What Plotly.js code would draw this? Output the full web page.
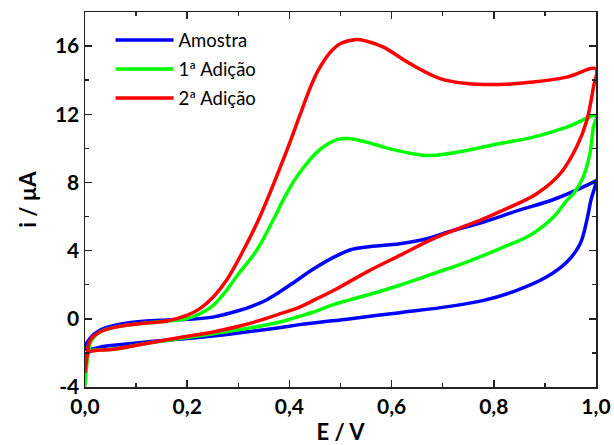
<!DOCTYPE html>
<html>
<head>
<meta charset="utf-8">
<script src="https://cdn.plot.ly/plotly-3.0.1.min.js"></script>
<style>html,body{margin:0;padding:0;background:#fff;}#chart{width:614px;height:445px;}</style>
</head>
<body>
<div id="chart"></div>
<script>
// Series names
const seriesNames = ["Amostra", "1ª Adição", "2ª Adição"];

// Amostra (blue): loop, lower branch 0->1 then upper branch 1->0
const amostraE = [0, 0.042, 0.12, 0.25, 0.38, 0.42, 0.52, 0.616, 0.714, 0.78, 0.845, 0.903, 0.943, 0.969, 0.982, 0.99, 1.0,
                  0.995, 0.917, 0.848, 0.78, 0.714, 0.669, 0.616, 0.551, 0.52, 0.49, 0.447, 0.408, 0.38, 0.356, 0.33, 0.303, 0.25, 0.2, 0.12, 0.068, 0.029, 0.01, 0];
const amostraI = [-1.75, -1.6, -1.36, -1.01, -0.52, -0.34, 0.01, 0.36, 0.73, 1.08, 1.67, 2.45, 3.33, 4.41, 5.78, 6.95, 8.1,
                  8.02, 7.0, 6.36, 5.68, 5.13, 4.70, 4.41, 4.21, 4.05, 3.66, 2.92, 2.12, 1.56, 1.12, 0.78, 0.5, 0.1, -0.03, -0.13, -0.32, -0.67, -1.14, -1.75];

// 1ª Adição (green)
const adicao1E = [0, 0.005, 0.055, 0.12, 0.186, 0.251, 0.316, 0.382, 0.42, 0.447, 0.488, 0.551, 0.616, 0.682, 0.747, 0.812, 0.871, 0.917, 0.943, 0.956, 0.975, 0.988, 0.995, 1.0,
                  0.943, 0.877, 0.812, 0.747, 0.682, 0.662, 0.61, 0.584, 0.558, 0.519, 0.493, 0.475, 0.453, 0.435, 0.414, 0.39, 0.368, 0.336, 0.297, 0.277, 0.251, 0.225, 0.199, 0.16, 0.12, 0.068, 0.029, 0.012, 0.005, 0];
const adicao1I = [-3.9, -2.0, -1.79, -1.45, -1.16, -0.87, -0.57, -0.19, 0.15, 0.40, 0.85, 1.38, 1.97, 2.65, 3.33, 4.12, 4.90, 5.97, 6.95, 7.34, 8.32, 9.69, 11.25, 11.9,
                  11.25, 10.66, 10.28, 9.88, 9.59, 9.59, 9.88, 10.08, 10.31, 10.57, 10.51, 10.25, 9.75, 9.15, 8.32, 7.1, 5.78, 4.02, 2.5, 1.67, 0.79, 0.3, 0.01, -0.13, -0.25, -0.44, -0.77, -1.3, -2.3, -3.9];

// 2ª Adição (red)
const adicao2E = [0, 0.005, 0.055, 0.12, 0.186, 0.251, 0.316, 0.382, 0.42, 0.447, 0.49, 0.551, 0.616, 0.682, 0.747, 0.773, 0.825, 0.884, 0.93, 0.962, 0.982, 0.995, 1.0,
                  0.943, 0.877, 0.812, 0.747, 0.695, 0.636, 0.584, 0.55, 0.532, 0.5, 0.485, 0.47, 0.455, 0.44, 0.42, 0.395, 0.342, 0.31, 0.277, 0.251, 0.225, 0.199, 0.16, 0.12, 0.068, 0.029, 0.01, 0.004, 0];
const adicao2I = [-3.1, -2.0, -1.79, -1.45, -1.1, -0.77, -0.32, 0.3, 0.69, 1.08, 1.72, 2.74, 3.72, 4.70, 5.48, 5.78, 6.46, 7.34, 8.52, 10.08, 11.64, 13.6, 14.67,
                  14.18, 13.89, 13.75, 13.8, 14.09, 14.97, 15.94, 16.3, 16.39, 16.15, 15.8, 15.25, 14.5, 13.5, 11.9, 9.88, 5.97, 4.02, 2.26, 1.28, 0.6, 0.2, -0.13, -0.25, -0.44, -0.77, -1.26, -2.2, -3.1];

// Axis ticks
const xTickVals = [0, 0.2, 0.4, 0.6, 0.8, 1.0];
const xTickText = ["0,0", "0,2", "0,4", "0,6", "0,8", "1,0"];
const yTickVals = [-4, 0, 4, 8, 12, 16];
const yTickText = ["-4", "0", "4", "8", "12", "16"];

const colors = ["#0000ff", "#00ff00", "#ff0000"];
const xs = [amostraE, adicao1E, adicao2E];
const ys = [amostraI, adicao1I, adicao2I];

const traces = seriesNames.map((n, i) => ({
  x: xs[i], y: ys[i], name: n, type: "scatter", mode: "lines", legendgroup: "g" + i,
  line: {color: colors[i], width: 3.5, shape: "spline", smoothing: 1.0}
}));

const fontFam = "Lato, 'Open Sans', sans-serif";
const axisCommon = {
  showline: true, linecolor: "#222", linewidth: 1.5, mirror: "ticks",
  ticks: "inside", ticklen: 7, tickwidth: 1.5, tickcolor: "#222",
  showgrid: false, zeroline: false,
  tickfont: {family: fontFam, size: 21, color: "#000", weight: "bold"}
};

const layout = {
  width: 614, height: 445,
  margin: {l: 85, r: 18, t: 12, b: 58},
  paper_bgcolor: "#fff", plot_bgcolor: "#fff",
  showlegend: true,
  legend: {x: 0.05, y: 0.975, xanchor: "left", yanchor: "top", bgcolor: "rgba(0,0,0,0)",
           traceorder: "grouped", tracegroupgap: 2, itemwidth: 58,
           font: {family: fontFam, size: 18.5, color: "#000"}},
  xaxis: Object.assign({}, axisCommon, {
    range: [0, 1], tickvals: xTickVals, ticktext: xTickText,
    minor: {dtick: 0.1, ticks: "inside", ticklen: 4, tickwidth: 1.5, tickcolor: "#222"},
    title: {text: "E / V", font: {family: fontFam, size: 22, color: "#000", weight: "bold"}, standoff: 10}
  }),
  yaxis: Object.assign({}, axisCommon, {
    range: [-4, 18], tickvals: yTickVals, ticktext: yTickText,
    minor: {dtick: 2, ticks: "inside", ticklen: 4, tickwidth: 1.5, tickcolor: "#222"},
    title: {text: "i / µA", font: {family: fontFam, size: 22, color: "#000", weight: "bold"}, standoff: 12}
  })
};

Plotly.newPlot("chart", traces, layout, {displayModeBar: false, staticPlot: true});
</script>
</body>
</html>
